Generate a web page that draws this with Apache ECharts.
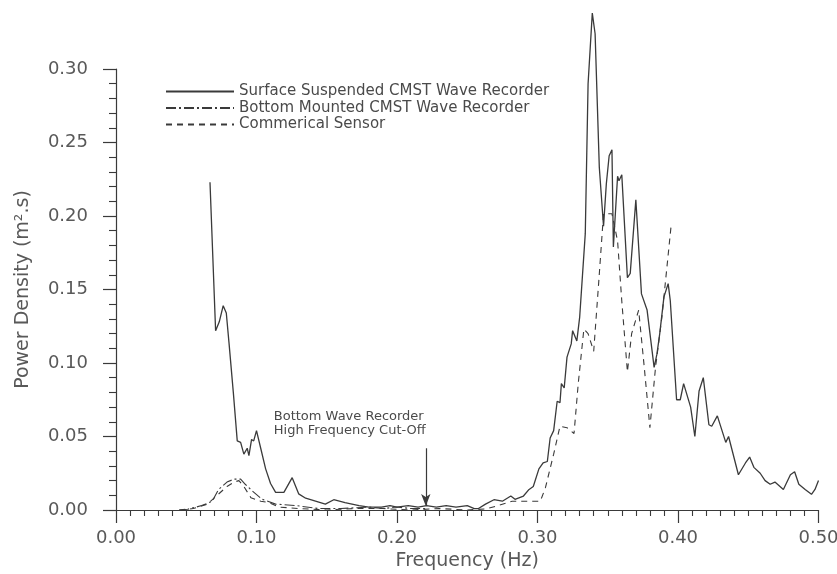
<!DOCTYPE html>
<html><head><meta charset="utf-8">
<script src="https://cdn.jsdelivr.net/npm/echarts@6/dist/echarts.min.js"></script>
<style>html,body{margin:0;padding:0;background:#fff}#c{width:837px;height:574px}</style>
</head><body><div id="c"></div>
<script>
const surfaceFreq = [0.0669,0.0709,0.0735,0.0763,0.0785,0.0804,0.0835,0.0863,0.0887,0.0910,0.0934,0.0946,0.0965,0.0980,0.1000,0.1030,0.1065,0.1100,0.1136,0.1195,0.1254,0.1300,0.1350,0.1420,0.1490,0.1550,0.1630,0.1730,0.1800,0.1890,0.1950,0.2000,0.2080,0.2150,0.2210,0.2280,0.2350,0.2420,0.2500,0.2550,0.2580,0.2630,0.2690,0.2750,0.2810,0.2840,0.2900,0.2940,0.2970,0.3010,0.3040,0.3070,0.3090,0.3115,0.3140,0.3160,0.3170,0.3190,0.3210,0.3240,0.3250,0.3280,0.3300,0.3340,0.3360,0.3390,0.3410,0.3440,0.3470,0.3490,0.3510,0.3530,0.3540,0.3570,0.3580,0.3600,0.3640,0.3660,0.3700,0.3740,0.3780,0.3830,0.3850,0.3870,0.3900,0.3930,0.3945,0.3990,0.4016,0.4040,0.4090,0.4120,0.4150,0.4180,0.4220,0.4240,0.4280,0.4340,0.4360,0.4430,0.4480,0.4510,0.4540,0.4585,0.4620,0.4656,0.4690,0.4750,0.4800,0.4830,0.4860,0.4905,0.4950,0.4975,0.5000];
const surfaceVal = [0.223,0.122,0.128,0.139,0.134,0.114,0.080,0.047,0.046,0.038,0.042,0.037,0.048,0.047,0.054,0.042,0.028,0.018,0.012,0.012,0.022,0.011,0.008,0.006,0.004,0.007,0.005,0.003,0.002,0.002,0.003,0.002,0.003,0.002,0.003,0.002,0.003,0.002,0.003,0.001,0.001,0.004,0.007,0.006,0.0095,0.0073,0.0095,0.014,0.016,0.028,0.032,0.033,0.049,0.054,0.074,0.073,0.086,0.083,0.104,0.113,0.122,0.115,0.131,0.188,0.290,0.338,0.324,0.233,0.193,0.222,0.241,0.245,0.179,0.227,0.224,0.228,0.158,0.161,0.211,0.147,0.136,0.097,0.106,0.120,0.145,0.154,0.1425,0.075,0.075,0.086,0.070,0.050,0.081,0.090,0.058,0.057,0.064,0.046,0.050,0.024,0.032,0.036,0.029,0.025,0.020,0.0175,0.019,0.014,0.024,0.026,0.0175,0.014,0.0107,0.014,0.020];

const bottomFreq = [0.045,0.051,0.061,0.0685,0.073,0.079,0.084,0.0887,0.092,0.097,0.104,0.1136,0.128,0.144,0.160,0.180,0.190,0.200,0.210,0.220];
const bottomVal  = [0.000,0.0005,0.003,0.006,0.014,0.019,0.021,0.021,0.0175,0.013,0.0073,0.004,0.003,0.001,0.001,0.002,0.001,0.002,0.001,0.001];

const commFreq = [0.045,0.055,0.065,0.072,0.079,0.084,0.0875,0.091,0.096,0.103,0.109,0.116,0.130,0.150,0.170,0.190,0.210,0.230,0.250,0.263,0.272,0.282,0.302,0.3056,0.3115,0.316,0.321,0.326,0.329,0.333,0.336,0.340,0.3435,0.347,0.353,0.357,0.360,0.364,0.367,0.372,0.376,0.380,0.384,0.3885,0.395];
const commVal  = [0.000,0.001,0.004,0.010,0.016,0.019,0.020,0.016,0.0084,0.006,0.005,0.002,0.001,0.000,0.001,0.001,0.000,0.001,0.000,0.0007,0.003,0.006,0.006,0.015,0.038,0.057,0.056,0.052,0.086,0.123,0.120,0.108,0.154,0.2015,0.2015,0.183,0.142,0.094,0.120,0.136,0.097,0.056,0.097,0.131,0.1925];

const seriesNames = ['Surface Suspended CMST Wave Recorder','Bottom Mounted CMST Wave Recorder','Commerical Sensor'];
const cutoffFreq = 0.2205;
const cutoffArrow = [0.042, 0.0027];
const cutoffText = ['Bottom Wave Recorder','High Frequency Cut-Off'];

const zip = (a,b) => a.map((x,i)=>[x,b[i]]);
const ink = '#3a3a3a';
const textInk = '#595959';
const font = 'DejaVu Sans';

const chart = echarts.init(document.getElementById('c'));
const lineBase = {type:'line', symbol:'none', clip:false, smooth:false};
chart.setOption({
  animation:false,
  backgroundColor:'#fff',
  textStyle:{fontFamily:font},
  grid:{left:116, right:18.5, top:69, bottom:64, containLabel:false, outerBoundsMode:'none'},
  legend:{
    orient:'vertical', left:160, top:79, itemWidth:68, itemHeight:14, itemGap:1.5,
    data:seriesNames,
    itemStyle:{opacity:0},
    textStyle:{fontFamily:font, fontSize:15, color:'#4a4a4a'}
  },
  xAxis:{
    type:'value', min:0, max:0.5, interval:0.1,
    name:'Frequency (Hz)', nameLocation:'middle', nameGap:42,
    nameTextStyle:{fontFamily:font, fontSize:19, color:textInk},
    axisLine:{show:true, lineStyle:{color:ink, width:1.2}},
    axisTick:{show:true, inside:false, length:13, lineStyle:{color:ink, width:1.2}},
    minorTick:{show:true, splitNumber:10, length:6, lineStyle:{color:ink, width:1.1}},
    axisLabel:{formatter:v=>v.toFixed(2), fontSize:18, color:textInk, margin:19},
    splitLine:{show:false}
  },
  yAxis:{
    type:'value', min:0, max:0.30, interval:0.05,
    name:'Power Density (m\u00B2.s)', nameLocation:'middle', nameGap:83, nameRotate:90,
    nameTextStyle:{fontFamily:font, fontSize:19, color:textInk},
    axisLine:{show:true, lineStyle:{color:ink, width:1.2}},
    axisTick:{show:true, inside:false, length:13, lineStyle:{color:ink, width:1.2}},
    minorTick:{show:true, splitNumber:5, length:7, lineStyle:{color:ink, width:1.1}},
    axisLabel:{formatter:v=>v.toFixed(2), fontSize:18, color:textInk, margin:28},
    splitLine:{show:false}
  },
  series:[
    Object.assign({}, lineBase, {name:seriesNames[0], data:zip(surfaceFreq,surfaceVal), z:3,
      lineStyle:{color:ink, width:1.3, type:'solid'}, itemStyle:{color:ink}}),
    Object.assign({}, lineBase, {name:seriesNames[1], data:zip(bottomFreq,bottomVal), z:2,
      lineStyle:{color:ink, width:1.1, type:[10,3,2,3]}, itemStyle:{color:ink},
      markLine:{silent:true, symbol:['none','arrow'], symbolSize:[7,12], label:{show:false},
        lineStyle:{color:ink, width:1.2, type:'solid'},
        data:[[{coord:[cutoffFreq,cutoffArrow[0]]},{coord:[cutoffFreq,cutoffArrow[1]]}]]}}),
    Object.assign({}, lineBase, {name:seriesNames[2], data:zip(commFreq,commVal), z:2,
      lineStyle:{color:ink, width:1.1, type:[6,5]}, itemStyle:{color:ink}})
  ]
});
const p = chart.convertToPixel({gridIndex:0}, [cutoffFreq, cutoffArrow[0]]);
chart.setOption({graphic:[{
  type:'text', left:p[0]-152, top:p[1]-39,
  style:{text:cutoffText.join('\n'), fontFamily:font, fontSize:13, lineHeight:14.5, fill:'#4a4a4a'}
}]});
</script></body></html>
